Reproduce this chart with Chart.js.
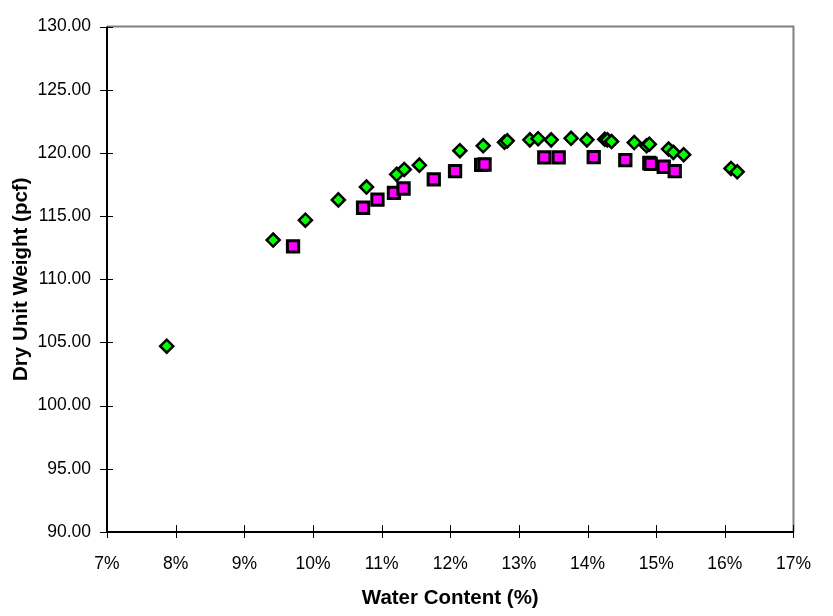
<!DOCTYPE html>
<html>
<head>
<meta charset="utf-8">
<script src="https://cdn.jsdelivr.net/npm/chart.js@4.4.1/dist/chart.umd.min.js"></script>
<style>
  html, body { margin: 0; padding: 0; background: #fff; }
  #wrap { width: 833px; height: 616px; }
</style>
</head>
<body>
<div id="wrap"><canvas id="chart"></canvas></div>
<script>
// water content (%) and dry unit weight (pcf)
var greenWater = [7.87, 9.42, 9.89, 10.37, 10.78, 11.22, 11.33, 11.55, 12.14, 12.48, 12.79, 12.83, 13.16, 13.28, 13.47, 13.76, 13.99, 14.25, 14.29, 14.35, 14.68, 14.86, 14.90, 15.18, 15.25, 15.40, 16.09, 16.18];
var greenDry = [104.7, 113.1, 114.67, 116.28, 117.3, 118.3, 118.69, 119.03, 120.17, 120.56, 120.84, 120.95, 121.03, 121.12, 121.03, 121.15, 121.03, 121.07, 121.03, 120.9, 120.82, 120.56, 120.69, 120.3, 120.04, 119.86, 118.77, 118.5];

var pinkWater = [9.71, 10.73, 10.94, 11.18, 11.32, 11.76, 12.07, 12.45, 12.50, 13.37, 13.58, 14.09, 14.55, 14.90, 14.92, 15.11, 15.27];
var pinkDry = [112.6, 115.66, 116.3, 116.83, 117.18, 117.91, 118.56, 119.05, 119.08, 119.65, 119.65, 119.67, 119.42, 119.2, 119.13, 118.9, 118.56];

var xTicks = [7, 8, 9, 10, 11, 12, 13, 14, 15, 16, 17];
var yTicks = [90, 95, 100, 105, 110, 115, 120, 125, 130];

function toPoints(xs, ys) {
  return xs.map(function (x, i) { return { x: x, y: ys[i] }; });
}

// frame + crossing tick marks, the way the original draws them
var framePlugin = {
  id: 'frame',
  afterDatasetsDraw: function (chart) {
    var ctx = chart.ctx, a = chart.chartArea;
    var xs = chart.scales.x, ys = chart.scales.y;
    ctx.save();
    ctx.lineWidth = 2;
    ctx.strokeStyle = '#808080';
    ctx.beginPath();
    ctx.moveTo(a.left, a.top); ctx.lineTo(a.right, a.top); ctx.lineTo(a.right, a.bottom);
    ctx.stroke();
    ctx.strokeStyle = '#000';
    ctx.beginPath();
    ctx.moveTo(a.left, a.top); ctx.lineTo(a.left, a.bottom); ctx.lineTo(a.right, a.bottom);
    ctx.stroke();
    ctx.lineWidth = 1;
    ctx.beginPath();
    yTicks.forEach(function (v) {
      var p = Math.round(ys.getPixelForValue(v)) + 0.5;
      ctx.moveTo(a.left - 7, p); ctx.lineTo(a.left + 6, p);
    });
    xTicks.forEach(function (v) {
      var p = Math.round(xs.getPixelForValue(v)) + 0.5;
      ctx.moveTo(p, a.bottom - 7); ctx.lineTo(p, a.bottom + 6);
    });
    ctx.stroke();
    ctx.restore();
  }
};

new Chart(document.getElementById('chart'), {
  type: 'scatter',
  data: {
    datasets: [
      {
        label: 'green',
        data: toPoints(greenWater, greenDry),
        pointStyle: 'rectRot',
        pointRadius: 6.5,
        pointHoverRadius: 6.5,
        backgroundColor: '#00ff00',
        borderColor: '#000',
        borderWidth: 2.5
      },
      {
        label: 'pink',
        data: toPoints(pinkWater, pinkDry),
        pointStyle: 'rect',
        pointRadius: 8,
        pointHoverRadius: 8,
        backgroundColor: '#ff00ff',
        borderColor: '#000',
        borderWidth: 3
      }
    ]
  },
  options: {
    responsive: true,
    maintainAspectRatio: false,
    animation: false,
    layout: { padding: { top: 18, right: 24, left: 0, bottom: 0 } },
    plugins: { legend: { display: false }, tooltip: { enabled: false } },
    scales: {
      x: {
        type: 'linear',
        min: 7, max: 17,
        afterBuildTicks: function (s) { s.ticks = xTicks.map(function (v) { return { value: v }; }); },
        afterFit: function (s) { s.height = 84; },
        grid: { display: false, drawTicks: false },
        border: { display: false },
        ticks: {
          color: '#000',
          padding: 22,
          maxRotation: 0,
          font: { family: "'Liberation Sans', Arial, sans-serif", size: 17.5 },
          callback: function (v) { return v + '%'; }
        },
        title: {
          display: true,
          text: 'Water Content (%)',
          color: '#000',
          padding: 5,
          font: { family: "'Liberation Sans', Arial, sans-serif", size: 20.5, weight: 'bold' }
        }
      },
      y: {
        type: 'linear',
        min: 90, max: 130,
        afterBuildTicks: function (s) { s.ticks = yTicks.map(function (v) { return { value: v }; }); },
        afterFit: function (s) { s.width = 107; },
        grid: { display: false, drawTicks: false },
        border: { display: false },
        ticks: {
          color: '#000',
          padding: 16,
          font: { family: "'Liberation Sans', Arial, sans-serif", size: 17.5 },
          callback: function (v) { return v.toFixed(2); }
        },
        title: {
          display: true,
          text: 'Dry Unit Weight (pcf)',
          color: '#000',
          padding: 9,
          font: { family: "'Liberation Sans', Arial, sans-serif", size: 20.5, weight: 'bold' }
        }
      }
    }
  },
  plugins: [framePlugin]
});
</script>
</body>
</html>
